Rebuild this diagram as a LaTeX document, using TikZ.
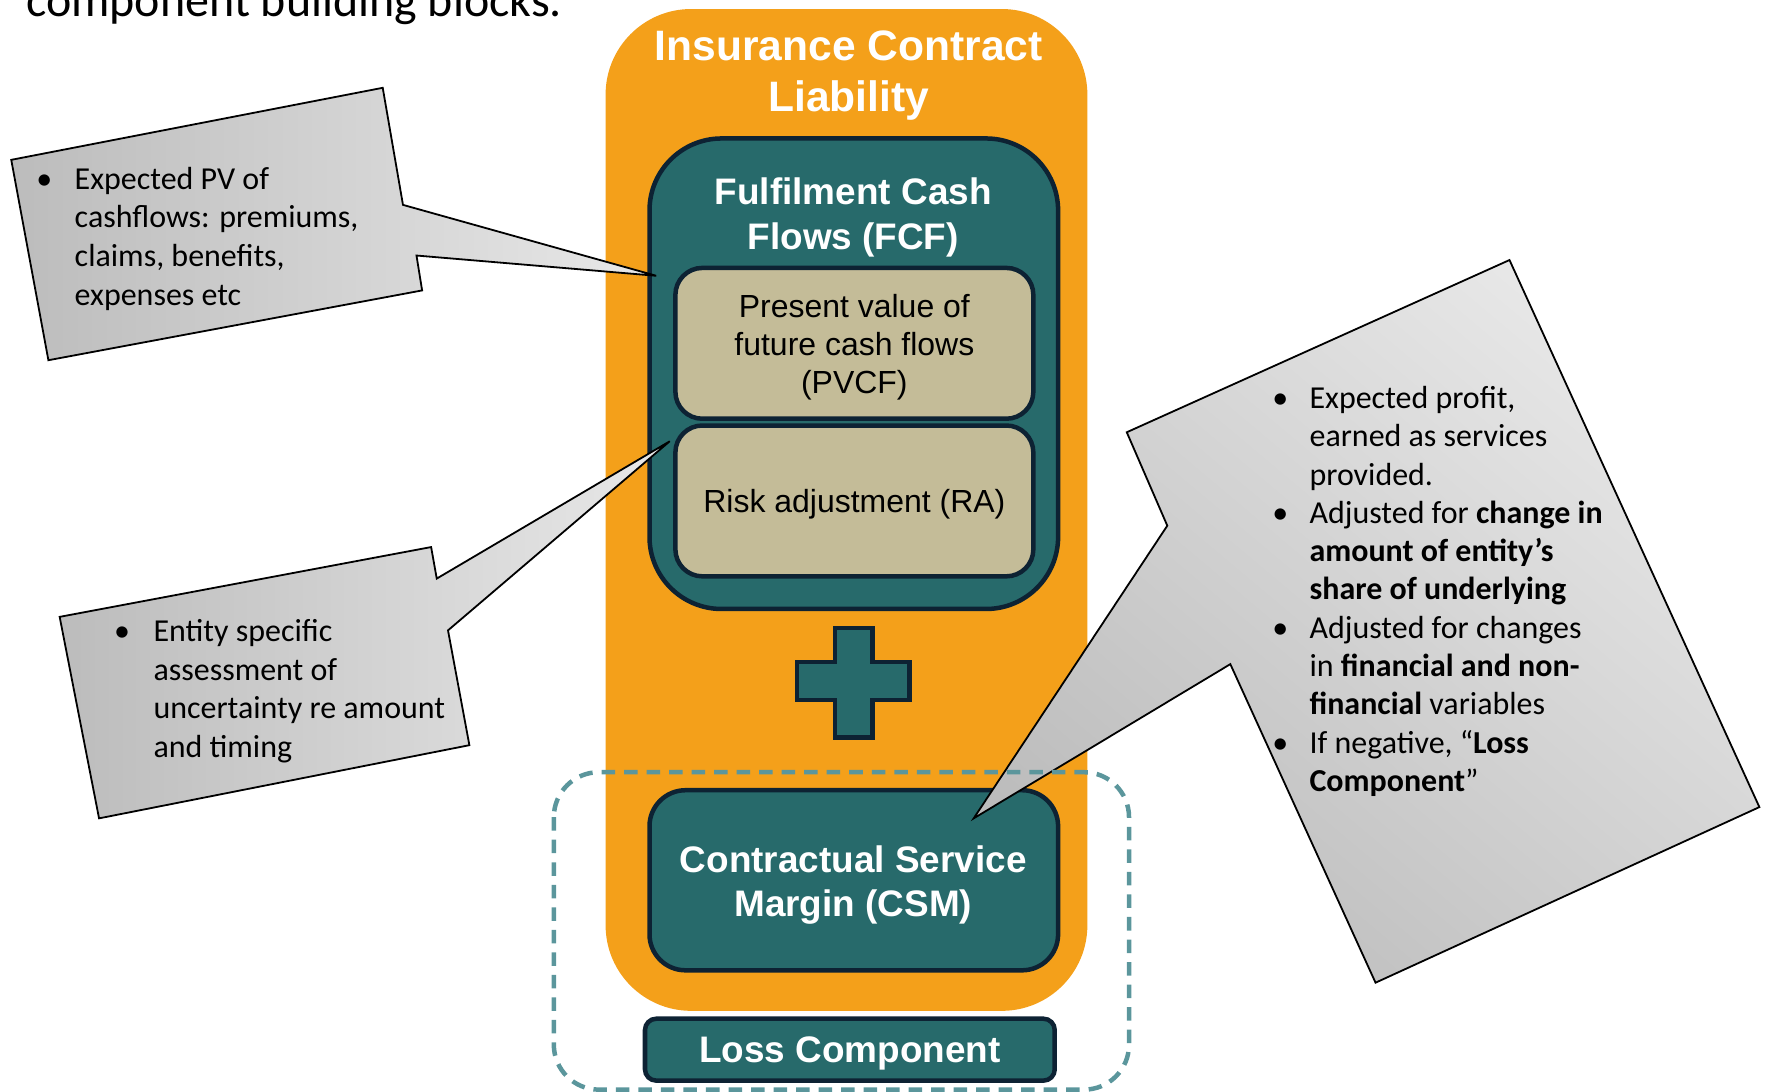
\documentclass[tikz,border=0pt]{standalone}
\usepackage{fontspec}
\setmainfont{Carlito}
\newfontfamily\arialf{Liberation Sans}
\definecolor{orangeL}{HTML}{F4A01A}
\definecolor{tealB}{HTML}{276A6B}
\definecolor{navyB}{HTML}{0D2233}
\definecolor{tanB}{HTML}{C4BC98}
\definecolor{dashC}{HTML}{5B969C}
\definecolor{calloutD}{HTML}{BCBCBC}
\definecolor{calloutL}{HTML}{E8E8E8}
\begin{document}
\begin{tikzpicture}[x=0.5pt,y=-0.5pt,
  boxline/.style={draw=navyB,line width=2pt},
  wtitle/.style={text=white,font=\arialf\bfseries\fontsize{16.4}{20}\selectfont,inner sep=0pt,anchor=base},
  bigtitle/.style={text=white,font=\arialf\bfseries\fontsize{18.9}{22}\selectfont,inner sep=0pt,anchor=base},
  blk/.style={text=black,font=\arialf\fontsize{14.2}{17}\selectfont,inner sep=0pt,anchor=base},
  ctext/.style={font=\fontsize{14.2}{17}\selectfont,inner sep=0pt,anchor=base west},
  callout/.style={draw=black,line width=0.8pt,line join=miter},
]
\useasboundingbox (0,0) rectangle (1568,970);
% top text (cut off)
\node[font=\fontsize{21.3}{25}\selectfont,anchor=base west,inner sep=0pt] (toptext) at (23,15) {component building blocks.};
% outer orange container
\fill[orangeL,rounded corners=38pt] (538,8) rectangle (966,898);
\node[bigtitle] (icl1) at (754,54) {Insurance Contract};
\node[bigtitle] (icl2) at (754,99) {Liability};
% FCF box
\path[boxline,fill=tealB,rounded corners=32pt] (577,123) rectangle (940,541);
\node[wtitle] (fcf1) at (758,182) {Fulfilment Cash};
\node[wtitle] (fcf2) at (758,222) {Flows (FCF)};
% PVCF
\path[boxline,fill=tanB,rounded corners=12pt] (600,238) rectangle (918,372);
\node[blk] (pv1) at (759,282) {Present value of};
\node[blk] (pv2) at (759,316) {future cash flows};
\node[blk] (pv3) at (759,350) {(PVCF)};
% RA
\path[boxline,fill=tanB,rounded corners=12pt] (600,378) rectangle (918,512);
\node[blk] (ra) at (759,455) {Risk adjustment (RA)};
% plus
\path[boxline,fill=tealB] (742,558) -- (775,558) -- (775,588) -- (808,588) -- (808,622) -- (775,622) -- (775,655) -- (742,655) -- (742,622) -- (708,622) -- (708,588) -- (742,588) -- cycle;
% CSM
\path[boxline,fill=tealB,rounded corners=16pt] (577,702) rectangle (940,862);
\node[wtitle] (csm1) at (758,775) {Contractual Service};
\node[wtitle] (csm2) at (758,814) {Margin (CSM)};
% Loss component
\path[boxline,fill=tealB,rounded corners=5pt] (573,905) rectangle (937,960);
\node[wtitle] (loss) at (755,944) {Loss Component};
% callout 1
\path[callout,left color=calloutD,right color=calloutL] (10,142) -- (340,78) -- (358,182) -- (583,245) -- (370,227) -- (375,258) -- (43,320) -- cycle;
\node[ctext] (b1) at (32,168) {•};
\foreach \t [count=\i from 0] in {{Expected PV of},{cashflows: premiums,},{claims, benefits,},{expenses etc}}
  \node[ctext] (c1-\i) at (66,{168+34.4*\i}) {\t};
% callout 2
\path[callout,left color=calloutD,right color=calloutL] (53,548) -- (383,486) -- (388,514) -- (595,392) -- (398,560) -- (417,662) -- (88,727) -- cycle;
\node[ctext] (b2) at (101,570) {•};
\foreach \t [count=\i from 0] in {{Entity specific},{assessment of},{uncertainty re amount},{and timing}}
  \node[ctext] (c2-\i) at (136,{570+34.3*\i}) {\t};
% callout 3
\path[callout,top color=calloutL,bottom color=calloutD,shading angle=-40] (1001,384) -- (1341,231) -- (1563,717) -- (1222,873) -- (1093,590) -- (865,727) -- (1037,467) -- cycle;
\foreach \j in {0,3,6,9}
  \node[ctext] (b3-\j) at (1130,{363+34*\j}) {•};
\foreach \t [count=\i from 0] in {{Expected profit,},{earned as services},{provided.},{Adjusted for \textbf{change in}},{\textbf{amount of entity’s}},{\textbf{share of underlying}},{Adjusted for changes},{in \textbf{financial and non-}},{\textbf{financial} variables},{If negative, “\textbf{Loss}},{\textbf{Component}”}}
  \node[ctext] (c3-\i) at (1163,{363+34*\i}) {\t};
% dashed group
\draw[dashC,line width=2pt,dash pattern=on 6pt off 4pt,rounded corners=20pt] (492,686) rectangle (1003,968);
\end{tikzpicture}
\end{document}
